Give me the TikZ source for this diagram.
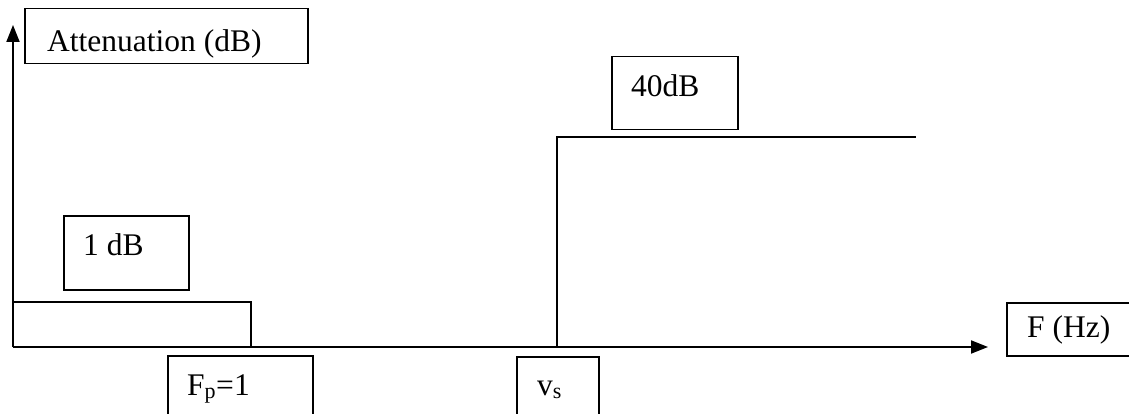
\documentclass[tikz,border=0pt]{standalone}
\usepackage{fontspec}
\setmainfont{Liberation Serif}
\usetikzlibrary{arrows.meta}
\begin{document}
\begin{tikzpicture}[x=1pt,y=-1pt,
  box/.style={draw,line width=1.5pt,rectangle,inner sep=0pt,anchor=north west},
  lbl/.style={inner sep=0pt,anchor=base west,font=\fontsize{31.5}{38}\selectfont},
  axis/.style={line width=2pt,-{Triangle[length=17pt,width=13pt]}},
  curve/.style={line width=1.5pt}]
\useasboundingbox (0,0) rectangle (1129,414);
\clip (0,0) rectangle (1129,414);
% coordinates
\coordinate (O) at (13,347);
\coordinate (ytop) at (13,25);
\coordinate (xend) at (988,347);
\coordinate (pb1) at (13,302);
\coordinate (pb2) at (251,302);
\coordinate (pb3) at (251,347);
\coordinate (sb0) at (557,347);
\coordinate (sb1) at (557,137);
\coordinate (sb2) at (916,137);
% boxes
\node[box,minimum width=283pt,minimum height=55pt] (attbox) at (24,8) {};
\node[box,minimum width=126pt,minimum height=73pt] (fortybox) at (611,56) {};
\node[box,minimum width=125pt,minimum height=74pt] (onebox) at (63,215) {};
\node[box,minimum width=145pt,minimum height=80pt] (fpbox) at (167,355) {};
\node[box,minimum width=82pt,minimum height=80pt] (vsbox) at (516,356) {};
\node[box,minimum width=140pt,minimum height=53pt] (fhzbox) at (1006,302) {};
% labels
\node[lbl] (attlbl) at (47,52) {Attenuation (dB)};
\node[lbl] (fortylbl) at (631,97) {40dB};
\node[lbl] (onelbl) at (83,255) {1 dB};
\node[lbl] (fplbl) at (187,395) {F\textsubscript{p}=1};
\node[lbl] (vslbl) at (537,395) {v\textsubscript{s}};
\node[lbl] (fhzlbl) at (1027,337) {F (Hz)};
% axes
\draw[axis] (O) -- (ytop);
\draw[axis] (O) -- (xend);
% passband
\draw[curve] (O) -- (pb1) -- (pb2) -- (pb3);
% stopband
\draw[curve] (sb0) -- (sb1) -- (sb2);
\end{tikzpicture}
\end{document}
